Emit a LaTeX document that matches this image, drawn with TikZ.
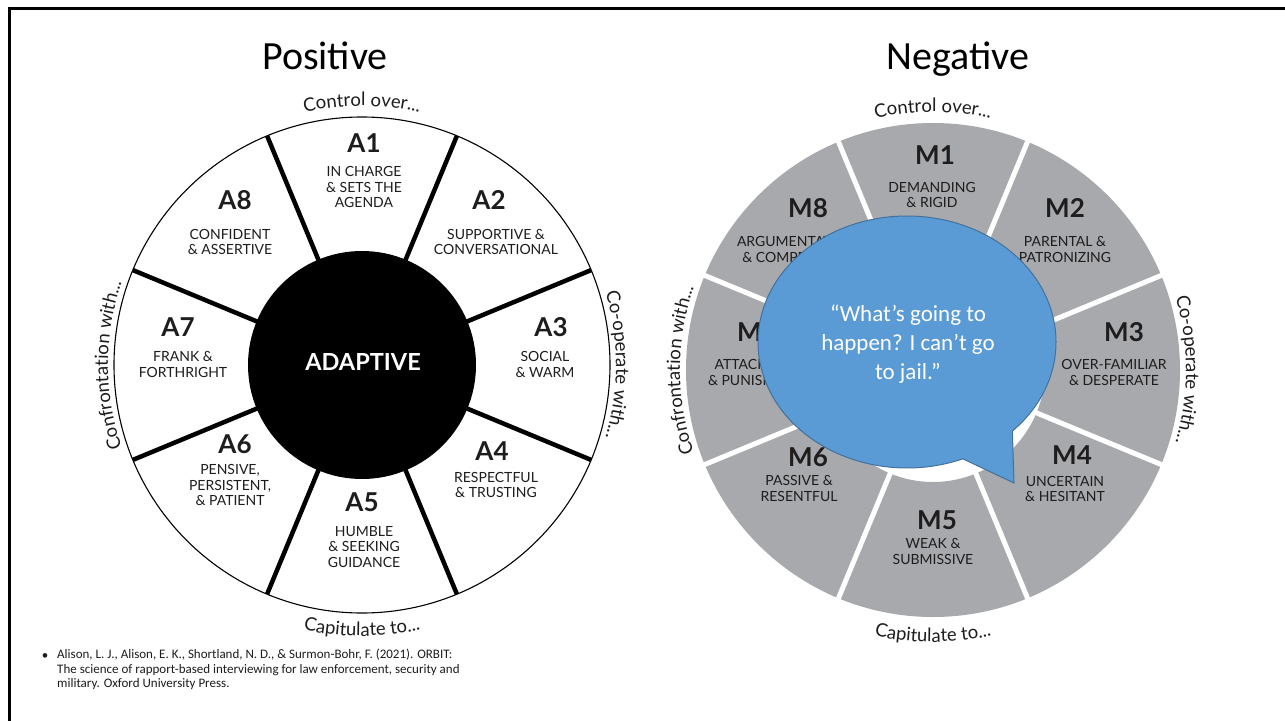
\documentclass[tikz,border=0pt]{standalone}
\usepackage{fontspec}
\setmainfont{Lato}
\newfontfamily\calfont{Carlito}
\usetikzlibrary{decorations.text}
\definecolor{ink}{HTML}{1E1C1D}
\definecolor{ringgray}{HTML}{A7A9AC}
\definecolor{bubblefill}{HTML}{5B9BD5}
\definecolor{bubbleline}{HTML}{41719C}
\begin{document}
\begin{tikzpicture}[x=1bp,y=1bp,
  code/.style={font=\bfseries\fontsize{26bp}{26bp}\selectfont, text=ink, inner sep=0},
  lbl/.style={font=\fontsize{14bp}{15.5bp}\selectfont, align=center, text=ink, inner sep=0},
  title/.style={font=\calfont\fontsize{40bp}{40bp}\selectfont, inner sep=0, anchor=base},
  curve/.style={decorate, decoration={text along path, text align=center, text color=ink,
     text={|\fontsize{18.5bp}{18.5bp}\selectfont|#1}}},
  divider/.style={line width=4.5bp, black},
  gap/.style={line width=5bp, white},
  bubble/.style={fill=bubblefill, draw=bubbleline, line width=1bp},
  bubbletext/.style={font=\calfont\fontsize{23bp}{29bp}\selectfont, text=white, align=center, inner sep=0},
  cite/.style={font=\calfont\fontsize{13bp}{14.5bp}\selectfont, align=left, inner sep=0, text=ink}
]
\useasboundingbox (0,0) rectangle (1285,-721);
\fill[white] (0,0) rectangle (1285,-721);
\draw[line width=3bp] (1285,-9) -- (9,-9) -- (9,-721);

% titles
\node[title] (tpos) at (325,-70) {Positive};
\node[title] (tneg) at (958,-70) {Negative};

% ---------- left wheel ----------
\coordinate (L) at (362,-365);
\draw[line width=1.1bp] (L) circle[radius=248bp];
\fill[black] (L) circle[radius=114bp];
\foreach \a in {22.5,67.5,...,337.5}
  \draw[divider] (L) ++(\a:110bp) -- ++(\a:138bp);

\node[code] (a1) at (364,-143) {A1};
\node[lbl]  (a1t) at (364,-187) {IN CHARGE\\ \& SETS THE\\ AGENDA};
\node[code] (a8) at (235,-200) {A8};
\node[lbl]  (a8t) at (230,-242) {CONFIDENT\\ \& ASSERTIVE};
\node[code] (a2) at (489,-200) {A2};
\node[lbl]  (a2t) at (496,-242) {SUPPORTIVE \&\\ CONVERSATIONAL};
\node[code] (a7) at (178,-327) {A7};
\node[lbl]  (a7t) at (183,-364.5) {FRANK \&\\ FORTHRIGHT};
\node[code] (a3) at (551,-327) {A3};
\node[lbl]  (a3t) at (545,-364.5) {SOCIAL\\ \& WARM};
\node[font=\bfseries\fontsize{23.5bp}{23.5bp}\selectfont, text=white, inner sep=0] (adapt) at (363,-362) {ADAPTIVE};
\node[code] (a6) at (235,-444) {A6};
\node[lbl]  (a6t) at (230,-485) {PENSIVE,\\ PERSISTENT,\\ \& PATIENT};
\node[code] (a5) at (362,-502) {A5};
\node[lbl]  (a5t) at (364,-547) {HUMBLE\\ \& SEEKING\\ GUIDANCE};
\node[code] (a4) at (492,-451) {A4};
\node[lbl]  (a4t) at (496,-485) {RESPECTFUL\\ \& TRUSTING};

\path[curve={Control over...}] (L) ++(115:259bp) arc[start angle=115, end angle=65, radius=259bp];
\path[curve={Co-operate with...}] (L) ++(25:254bp) arc[start angle=25, end angle=-25, radius=254bp];
\path[curve={Confrontation with...}] (L) ++(205:254bp) arc[start angle=205, end angle=155, radius=254bp];
\path[curve={Capitulate to...}] (L) ++(240:271bp) arc[start angle=240, end angle=300, radius=271bp];

% ---------- right wheel ----------
\coordinate (R) at (933,-370);
\fill[ringgray, even odd rule] (R) circle[radius=247bp] (R) circle[radius=112bp];
\foreach \a in {22.5,67.5,...,337.5}
  \draw[gap] (R) ++(\a:100bp) -- ++(\a:160bp);

\node[code] (m1) at (935,-155) {M1};
\node[lbl]  (m1t) at (932,-195) {DEMANDING\\ \& RIGID};
\node[code] (m8) at (808,-208) {M8};
\node[lbl]  (m8t) at (795,-249.5) {ARGUMENTATIVE\\ \& COMPETITIVE};
\node[code] (m2) at (1065,-208) {M2};
\node[lbl]  (m2t) at (1065,-249.5) {PARENTAL \&\\ PATRONIZING};
\node[code] (m7) at (757,-332) {M7};
\node[lbl]  (m7t) at (753,-372.5) {ATTACKING\\ \& PUNISHING};
\node[code] (m3) at (1124,-332) {M3};
\node[lbl]  (m3t) at (1114,-372.5) {OVER-FAMILIAR\\ \& DESPERATE};
\node[code] (m6) at (808,-457) {M6};
\node[lbl]  (m6t) at (799,-488.5) {PASSIVE \&\\ RESENTFUL};
\node[code] (m5) at (937,-520) {M5};
\node[lbl]  (m5t) at (933,-551.5) {WEAK \&\\ SUBMISSIVE};
\node[code] (m4) at (1072,-455) {M4};
\node[lbl]  (m4t) at (1065,-489) {UNCERTAIN\\ \& HESITANT};

\path[curve={Control over...}] (R) ++(115:258bp) arc[start angle=115, end angle=65, radius=258bp];
\path[curve={Co-operate with...}] (R) ++(25:253bp) arc[start angle=25, end angle=-25, radius=253bp];
\path[curve={Confrontation with...}] (R) ++(205:253bp) arc[start angle=205, end angle=155, radius=253bp];
\path[curve={Capitulate to...}] (R) ++(240:272bp) arc[start angle=240, end angle=300, radius=272bp];

% ---------- speech bubble ----------
\coordinate (B) at (907,-342);
\coordinate (tip) at (1014,-483);
\draw[bubble] (B) ++(-45:149bp and 126bp)
  arc[start angle=-45, end angle=292, x radius=149bp, y radius=126bp] -- (tip) -- cycle;
\node[bubbletext] (quote) at (908,-344) {“What’s going to\\ happen? I can’t go\\ to jail.”};

% ---------- citation ----------
\node[font=\calfont\fontsize{13bp}{13bp}\selectfont, inner sep=0, text=ink] (bullet) at (45,-657) {•};
\node[cite, anchor=north west] (cite) at (57,-649)
 {Alison, L. J., Alison, E. K., Shortland, N. D., \& Surmon-Bohr, F. (2021). ORBIT:\\
  The science of rapport-based interviewing for law enforcement, security and\\
  military. Oxford University Press.};
\end{tikzpicture}
\end{document}
